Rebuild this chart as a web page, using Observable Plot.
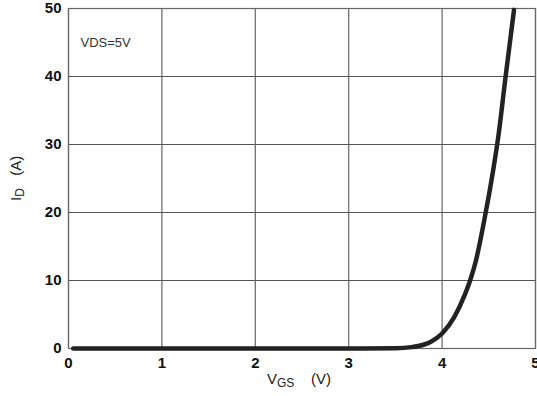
<!DOCTYPE html>
<html>
<head>
<meta charset="utf-8">
<script src="https://cdn.jsdelivr.net/npm/d3@7"></script>
<script src="https://cdn.jsdelivr.net/npm/@observablehq/plot@0.6"></script>
<style>
  html, body { margin: 0; padding: 0; background: #fff; }
  #chart { width: 537px; height: 396px; }
</style>
</head>
<body>
<div id="chart"></div>
<script>
const vgs = [0.05, 1, 2, 3, 3.5, 3.67, 3.8, 3.88, 4.0, 4.13, 4.24, 4.3, 4.36, 4.46, 4.55, 4.6, 4.68, 4.77];
const idA = [0, 0, 0, 0, 0.05, 0.2, 0.55, 1.0, 2.2, 4.6, 7.8, 10, 12.8, 19.5, 26.5, 31, 40, 49.8];
const xTicks = [0, 1, 2, 3, 4, 5];
const yTicks = [0, 10, 20, 30, 40, 50];
const note = ["VDS=5V"];

const data = vgs.map((v, i) => ({x: v, y: idA[i]}));

const W = 537, H = 396;
const mL = 68, mR = 2, mT = 8, mB = 48;

const plot = Plot.plot({
  width: W,
  height: H,
  marginLeft: mL,
  marginRight: mR,
  marginTop: mT,
  marginBottom: mB,
  style: {fontFamily: "'Liberation Sans', Arial, sans-serif", background: "#fff", color: "#111", overflow: "visible"},
  x: {domain: [0, 5], ticks: xTicks, label: null},
  y: {domain: [0, 50], ticks: yTicks, label: null},
  marks: [
    Plot.gridX(xTicks, {stroke: "#666", strokeOpacity: 1, strokeWidth: 1.2}),
    Plot.gridY(yTicks, {stroke: "#555", strokeOpacity: 1, strokeWidth: 1.2}),
    Plot.frame({stroke: "#666", strokeWidth: 1.2}),
    Plot.axisX(xTicks, {tickSize: 0, tickPadding: 9, fontSize: 15, fontWeight: "bold", fill: "#111"}),
    Plot.axisY(yTicks, {tickSize: 0, tickPadding: 7, fontSize: 15, fontWeight: "bold", fill: "#111"}),
    Plot.line(data, {x: "x", y: "y", stroke: "#222", strokeWidth: 4.5, curve: "monotone-x"}),
    Plot.text(note, {text: d => d, frameAnchor: "top-left", dx: 12, dy: 29, fontSize: 13, fill: "#333", textAnchor: "start"})
  ]
});

document.getElementById("chart").appendChild(plot);

// axis titles with subscripts
const svg = d3.select(plot);
const xl = svg.append("text")
  .attr("x", 267)
  .attr("y", 384)
  .attr("text-anchor", "start")
  .attr("font-size", 15)
  .attr("fill", "#222")
  .attr("font-family", "'Liberation Sans', Arial, sans-serif");
xl.append("tspan").text("V");
xl.append("tspan").attr("font-size", 12).attr("dy", 3).text("GS");
xl.append("tspan").attr("dy", -3).text("\u00a0\u00a0\u00a0\u00a0(V)");

const yl = svg.append("text")
  .attr("transform", `translate(21, 201) rotate(-90)`)
  .attr("text-anchor", "start")
  .attr("font-size", 15)
  .attr("fill", "#222")
  .attr("font-family", "'Liberation Sans', Arial, sans-serif");
yl.append("tspan").text("I");
yl.append("tspan").attr("font-size", 12).attr("dy", 3).text("D");
yl.append("tspan").attr("dy", -3).text("\u00a0\u00a0\u00a0(A)");
</script>
</body>
</html>
